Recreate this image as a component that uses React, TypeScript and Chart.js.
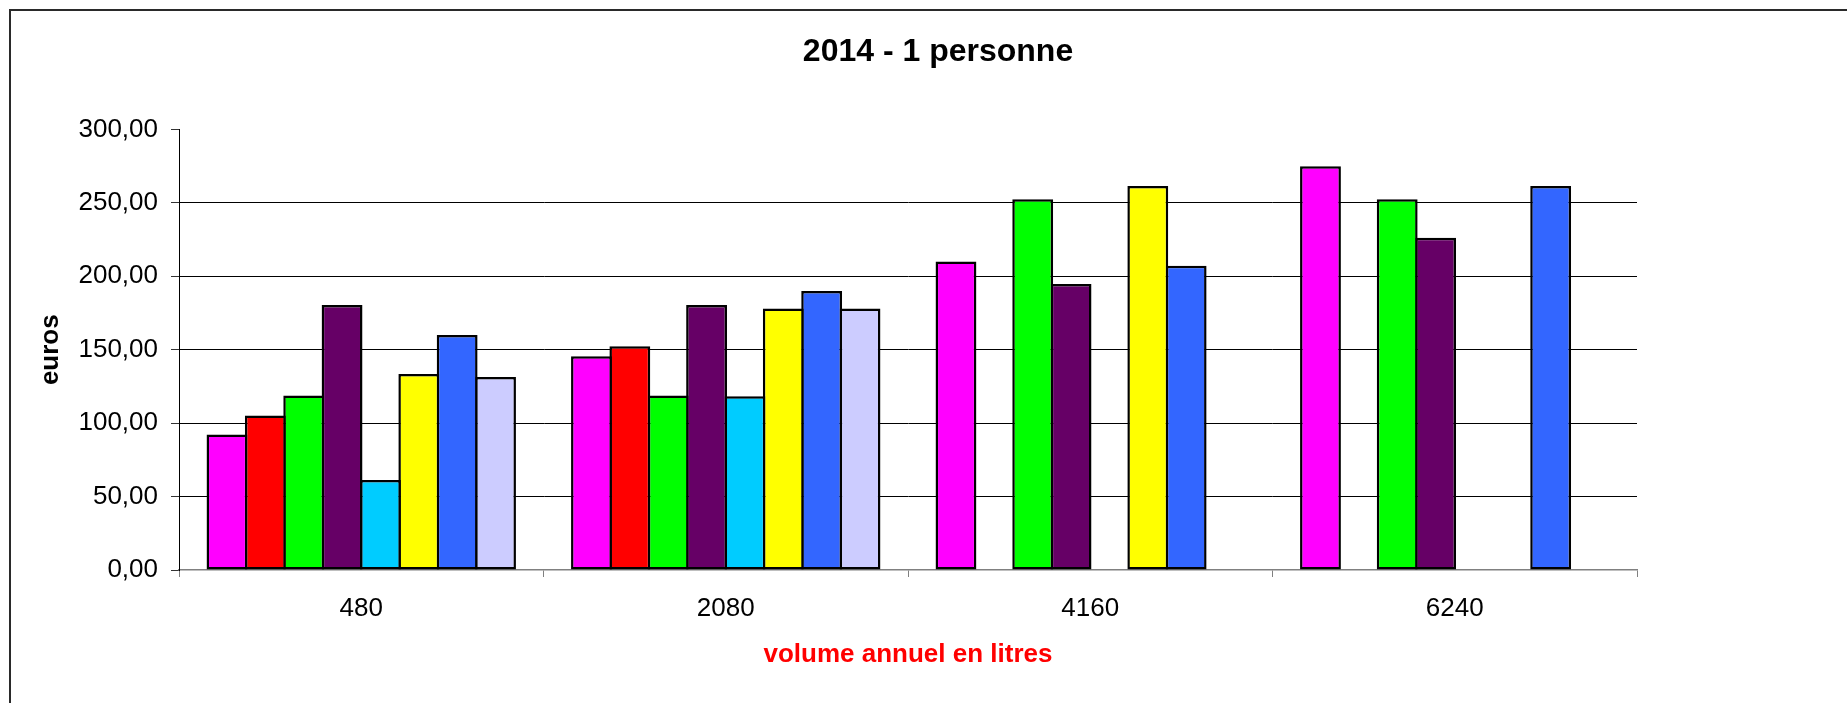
import React, { useEffect, useRef } from "react";
import { Chart, registerables } from "chart.js";

Chart.register(...registerables);

const categories = ["480", "2080", "4160", "6240"];
const yTicks = [0, 50, 100, 150, 200, 250, 300];

const serie1 = [92.3, 145.5, 210, 274.9];
const serie2 = [105.2, 152.3, null, null];
const serie3 = [118.8, 118.8, 252.5, 252.5];
const serie4 = [180.5, 180.5, 194.8, 226.2];
const serie5 = [61.3, 118.3, null, null];
const serie6 = [133.5, 178, 261.5, null];
const serie7 = [160, 190, 207.2, 261.5];
const serie8 = [131.4, 178, null, null];

const seriesNames = ["Série 1", "Série 2", "Série 3", "Série 4", "Série 5", "Série 6", "Série 7", "Série 8"];
const seriesColors = ["#FF00FF", "#FF0000", "#00FF00", "#660066", "#00CCFF", "#FFFF00", "#3366FF", "#CCCCFF"];
const seriesData = [serie1, serie2, serie3, serie4, serie5, serie6, serie7, serie8];

const FONT = "'Liberation Sans', Arial, sans-serif";
const CANVAS_W = 1876;
const CANVAS_H = 703;

export default function App() {
  const ref = useRef<HTMLCanvasElement | null>(null);

  useEffect(() => {
    if (!ref.current) return;
    const chart = new Chart(ref.current, {
      type: "bar",
      data: {
        labels: categories,
        datasets: seriesData.map((d, i) => ({
          label: seriesNames[i],
          data: d,
          backgroundColor: seriesColors[i],
          borderColor: "#000000",
          borderWidth: 2.5,
          borderSkipped: false,
          categoryPercentage: 0.842,
          barPercentage: 1.065,
          yAxisID: "y",
        })),
      },
      options: {
        responsive: false,
        animation: false,
        layout: { padding: 0 },
        plugins: {
          legend: { display: false },
          tooltip: { enabled: false },
          title: {
            display: true,
            text: "2014 - 1 personne",
            color: "#000000",
            font: { family: FONT, size: 32, weight: "bold" },
            padding: { top: 33, bottom: 58 },
          },
        },
        scales: {
          x: {
            grid: {
              display: true,
              drawOnChartArea: false,
              drawTicks: true,
              tickLength: 7,
              tickColor: "#808080",
              offset: true,
            },
            border: { display: true, color: "#808080", width: 1.5 },
            ticks: {
              color: "#000000",
              font: { family: FONT, size: 26 },
              padding: 16,
            },
            title: {
              display: true,
              text: "volume annuel en litres",
              color: "#FF0000",
              font: { family: FONT, size: 26, weight: "bold" },
              padding: { top: 0, bottom: 33 },
            },
            afterFit: (s: any) => {
              s.height = 133;
            },
          },
          y: {
            position: "left",
            min: 0,
            max: 300,
            afterBuildTicks: (s: any) => {
              s.ticks = yTicks.map((v) => ({ value: v }));
            },
            grid: {
              display: true,
              color: (ctx: any) =>
                ctx.tick && (ctx.tick.value === 300 || ctx.tick.value === 0) ? "rgba(0,0,0,0)" : "#000000",
              lineWidth: 1,
              drawTicks: true,
              tickLength: 8,
              tickColor: "#333333",
            },
            border: { display: true, color: "#000000", width: 1 },
            ticks: {
              color: "#000000",
              font: { family: FONT, size: 26 },
              padding: 13,
              callback: (v: any) => Number(v).toFixed(2).replace(".", ","),
            },
            title: {
              display: true,
              text: "euros",
              color: "#000000",
              font: { family: FONT, size: 26, weight: "bold" },
              padding: { top: 35, bottom: 0 },
            },
            afterFit: (s: any) => {
              s.width = 179;
            },
          },
          yRight: {
            type: "linear",
            position: "right",
            display: true,
            grid: { display: false, drawTicks: false },
            border: { display: false },
            ticks: { display: false },
            afterFit: (s: any) => {
              s.width = CANVAS_W - 1637;
            },
          },
        },
      },
    } as any);
    return () => chart.destroy();
  }, []);

  return (
    <div
      style={{
        position: "fixed",
        left: 0,
        top: 0,
        width: 1847,
        height: 703,
        overflow: "hidden",
        background: "#ffffff",
      }}
    >
      <canvas
        ref={ref}
        width={CANVAS_W}
        height={CANVAS_H}
        style={{ position: "absolute", left: 0, top: 0, width: CANVAS_W, height: CANVAS_H }}
      />
      <div
        style={{
          position: "absolute",
          left: 9,
          top: 9,
          width: 3000,
          height: 3000,
          borderLeft: "2px solid #2a2a2a",
          borderTop: "2px solid #2a2a2a",
          pointerEvents: "none",
        }}
      />
    </div>
  );
}
